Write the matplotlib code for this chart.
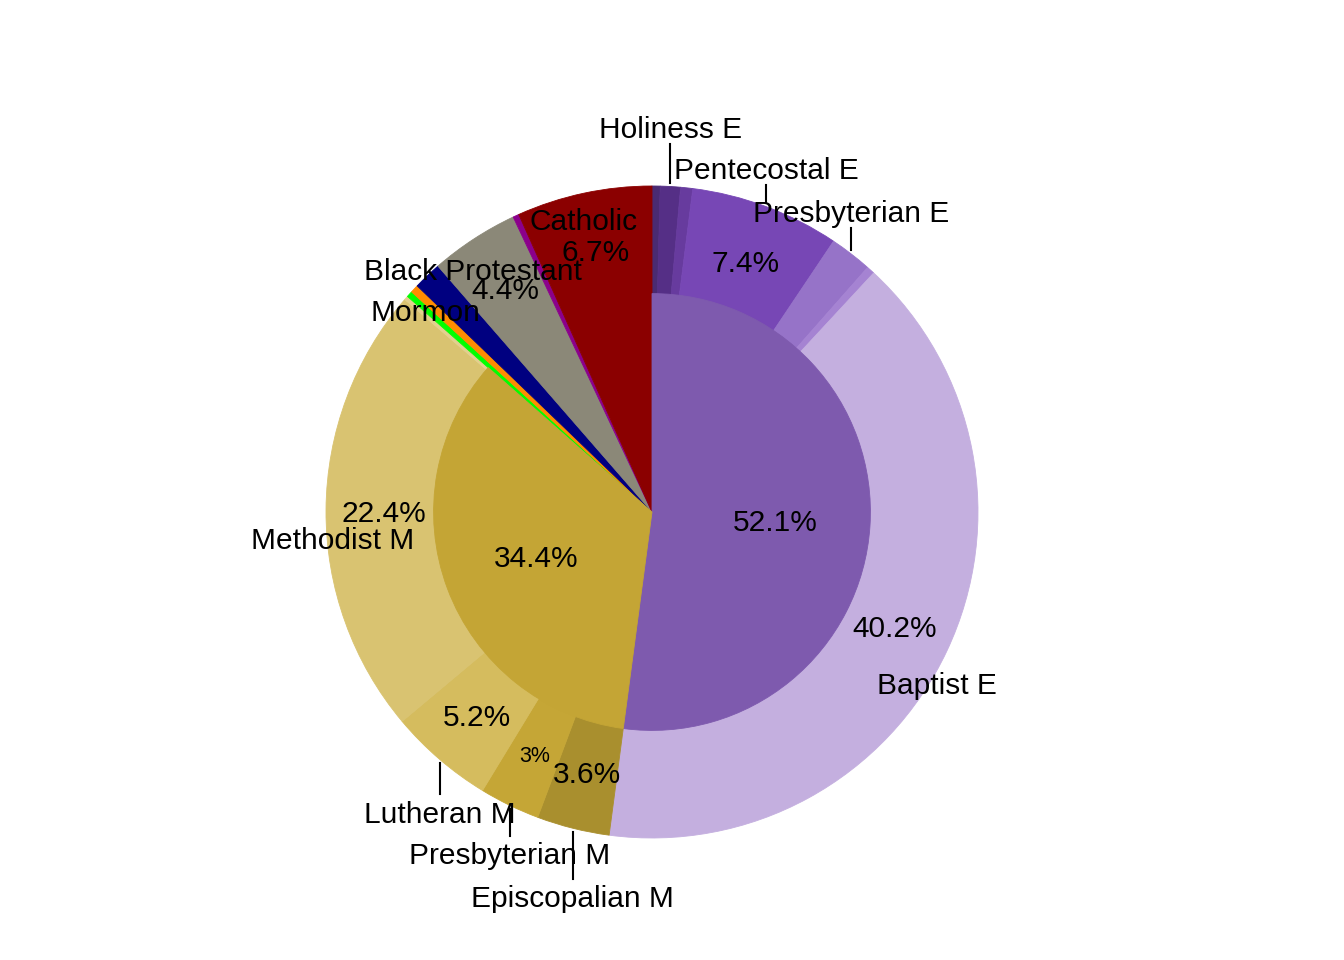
import numpy as np
import matplotlib
matplotlib.use("Agg")
import matplotlib.pyplot as plt

plt.rcParams['font.family'] = ['Liberation Sans', 'DejaVu Sans']

# outer ring, clockwise from 12 o'clock (percent of total)
outer_labels = ["", "Holiness E", "", "Pentecostal E", "Presbyterian E", "", "Baptist E",
                "Episcopalian M", "Presbyterian M", "Lutheran M", "Methodist M", "",
                "", "", "Mormon", "Black Protestant", "", "Catholic"]
outer_values = [0.4, 1.0, 0.6, 7.4, 2.1, 0.4, 40.2,
                3.6, 3.0, 5.2, 22.4, 0.2,
                0.3, 0.4, 1.4, 4.4, 0.3, 6.7]
outer_colors = ["#4A2B72", "#552F86", "#673B9E", "#7747B5", "#9673C8", "#A583D2", "#C4AFDF",
                "#A98F2E", "#C5A636", "#D5BC5E", "#D9C371", "#E2D08E",
                "#00FF00", "#FF8C00", "#000080", "#8B8878", "#8B008B", "#8B0000"]

# inner pie (the rest is left empty so the outer slices show through)
inner_labels = ["Evangelical", "Mainline", ""]
inner_values = [52.1, 34.4, 13.5]
inner_colors = ["#7E5AAE", "#C4A535", "none"]

# name label offsets from the outer edge: (dx, dy, leader line)
name_style = {
    "Holiness E": (0.0, 0.183, True),
    "Pentecostal E": (0.0, 0.119, True),
    "Presbyterian E": (0.0, 0.131, True),
    "Baptist E": (-0.03, -0.098, False),
    "Episcopalian M": (0.0, -0.208, True),
    "Presbyterian M": (0.0, -0.147, True),
    "Lutheran M": (0.0, -0.160, True),
    "Methodist M": (0.021, -0.084, False),
    "Mormon": (-0.007, -0.104, False),
    "Black Protestant": (-0.003, -0.09, False),
    "Catholic": (0.0, -0.079, False),
}

inner_r = 0.67
fs = 21.5
tshift = -0.01   # nudge text down a bit to sit like the original

fig = plt.figure(figsize=(13.44, 9.6), dpi=100)
ax = fig.add_axes([0, 0, 1, 1])

w_out, _ = ax.pie(outer_values, colors=outer_colors, radius=1.0, startangle=90,
                  counterclock=False)
w_in, _ = ax.pie(inner_values, colors=inner_colors, radius=inner_r, startangle=90,
                 counterclock=False)
for w in list(w_out) + list(w_in):
    fc = w.get_facecolor()
    if fc[3] > 0:
        w.set_edgecolor(fc)
        w.set_linewidth(0.6)
    else:
        w.set_linewidth(0)


def mid_angles(values):
    cum = np.cumsum(values)
    mids = (cum - np.array(values) / 2.0) / np.sum(values) * 360.0
    return np.radians(mids)   # clockwise from top


# outer percentages and names
for lab, v, th in zip(outer_labels, outer_values, mid_angles(outer_values)):
    sx, cy = np.sin(th), np.cos(th)
    if v >= 3:
        size = fs if v > 3 else 15.5
        ax.text(0.822 * sx, 0.822 * cy + tshift, f"{v:g}%", ha="center", va="center",
                fontsize=size, zorder=5)
    if lab:
        dx, dy, line = name_style[lab]
        lx, ly = sx + dx, cy + dy
        ax.text(lx, ly + tshift, lab, ha="center", va="center", fontsize=fs, zorder=6)
        if line:
            s = np.sign(dy)
            ax.plot([sx, sx], [cy + s * 0.012, ly - s * 0.052], color="black",
                    lw=1.5, zorder=6)

# inner percentages
for lab, v, th in zip(inner_labels, inner_values, mid_angles(inner_values)):
    if lab:
        ax.text(0.38 * np.sin(th), 0.38 * np.cos(th) + tshift, f"{v:g}%", ha="center",
                va="center", fontsize=fs, zorder=5)

# centre of the pie sits at (652, 512) px, radius 326 px
ax.set_xlim(-652 / 326, (1344 - 652) / 326)
ax.set_ylim(-(960 - 512) / 326, 512 / 326)
ax.set_aspect("auto")
ax.axis("off")

fig.savefig("out.png", dpi=100, facecolor="white")
